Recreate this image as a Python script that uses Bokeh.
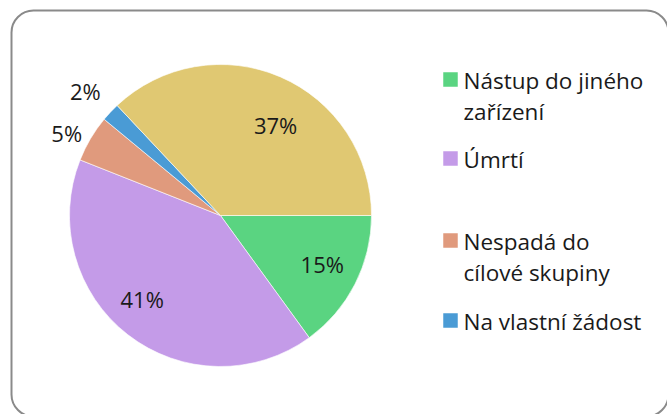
import numpy as np
from bokeh.plotting import figure
from bokeh.models import Range1d, BoxAnnotation, ColumnDataSource
from bokeh.core.properties import value
from bokeh.embed import file_html
from bokeh.resources import INLINE

# ---- data ----
slice_values = [15, 41, 5, 2, 37]
slice_labels = ["15%", "41%", "5%", "2%", "37%"]
slice_colors = ["#5AD481", "#C49BE8", "#E09A7D", "#4A9BD5", "#E0C872"]
legend_names = [["Nástup do jiného", "zařízení"], ["Úmrtí"], ["Nespadá do", "cílové skupiny"], ["Na vlastní žádost"]]
legend_colors = ["#5AD481", "#C49BE8", "#E09A7D", "#4A9BD5"]

# ---- layout ----
W, H = 667, 414
FONT = value("Open Sans")
cx, cy, R = 220, 199, 151
label_rfac = [0.745, 0.755, 1.16, 1.22, 0.71]
label_nudge = [1.8, -5.6, 2.0, 0.4, -7.5]

p = figure(width=W, height=H, output_backend="svg", toolbar_location=None,
           x_range=Range1d(0, W), y_range=Range1d(0, H), min_border=0)
p.axis.visible = False
p.grid.visible = False
p.outline_line_color = None
p.background_fill_color = "white"
p.border_fill_color = "white"

frac = np.array(slice_values, dtype=float) / sum(slice_values)
cum = np.concatenate([[0], np.cumsum(frac)])
start = -cum[1:] * 2 * np.pi
end = -cum[:-1] * 2 * np.pi
src = ColumnDataSource(dict(start=start, end=end, color=slice_colors))
p.wedge(x=cx, y=cy, radius=R, start_angle="start", end_angle="end",
        fill_color="color", line_color="white", line_width=0.6, source=src)

mid = -(cum[:-1] + cum[1:]) / 2 * 2 * np.pi + np.radians(label_nudge)
lx = cx + R * np.array(label_rfac) * np.cos(mid)
ly = cy + R * np.array(label_rfac) * np.sin(mid)
p.text(x=lx, y=ly - 1, text=slice_labels, text_font=FONT, text_font_size="22px",
       text_color="#1A1A1A", text_align="center", text_baseline="middle")

# legend (first-line centres, in data y)
item_first_center = [H - 79, H - 158, H - 240, H - 320]
line_gap = 31
sq_x = 450
txt_x = 463
for names, col, yc in zip(legend_names, legend_colors, item_first_center):
    p.scatter(x=[sq_x], y=[yc], marker="square", size=14.5, fill_color=col, line_color=None)
    ys = [yc - 1 - i * line_gap for i in range(len(names))]
    p.text(x=[txt_x] * len(names), y=ys, text=names, text_font=FONT, text_font_size="22.5px",
           text_color="#1A1A1A", text_align="left", text_baseline="middle")

frame = BoxAnnotation(left=11, right=668, top=H - 10, bottom=-2, fill_color=None,
                      fill_alpha=0, line_color="#8A8A8A", line_alpha=1.0,
                      line_width=2, border_radius=22)
p.add_layout(frame)

open("out.html", "w").write(file_html(p, INLINE))
